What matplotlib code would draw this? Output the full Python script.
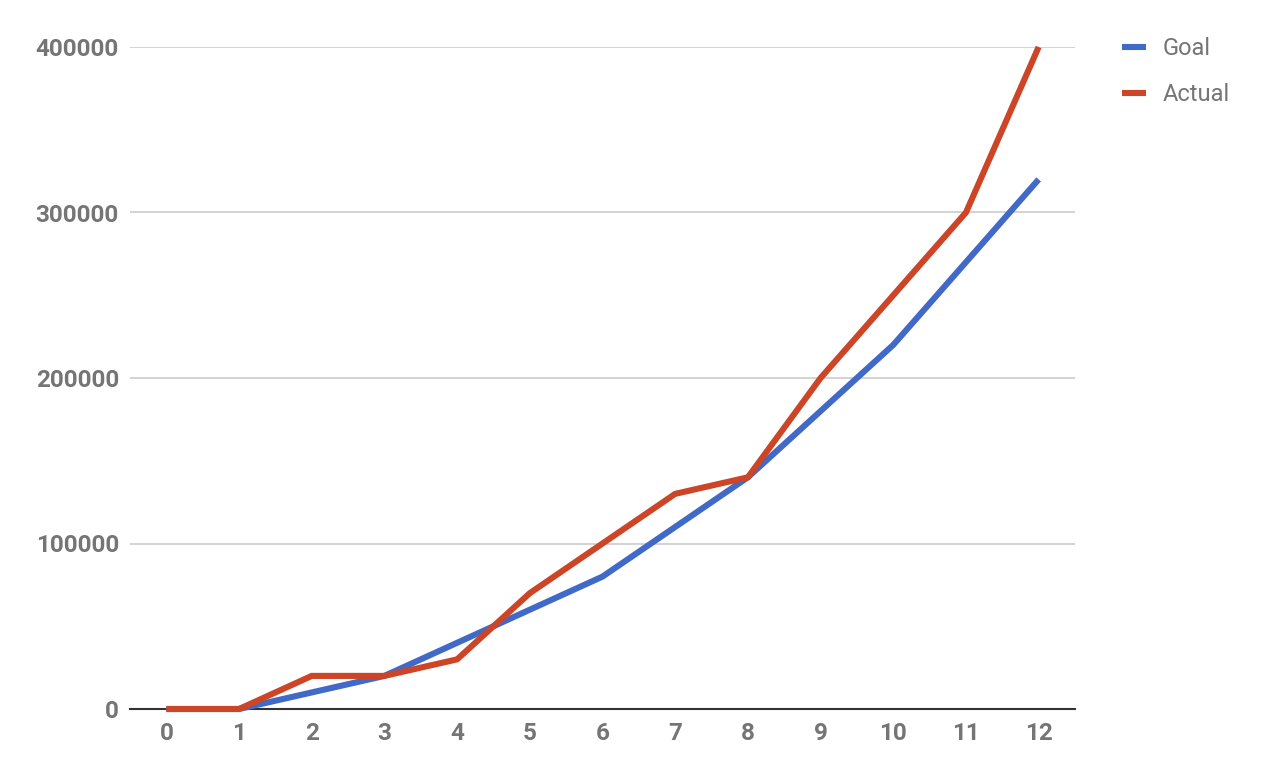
import matplotlib
matplotlib.use("Agg")
import matplotlib.pyplot as plt

x = list(range(13))
goal = [0, 0, 10000, 20000, 40000, 60000, 80000, 110000, 140000, 180000, 220000, 270000, 320000]
actual = [0, 0, 20000, 20000, 30000, 70000, 100000, 130000, 140000, 200000, 250000, 300000, 400000]
yticks = [0, 100000, 200000, 300000, 400000]

W, H = 1266, 778
fig = plt.figure(figsize=(W / 100, H / 100), dpi=100)
ax = fig.add_axes([130 / W, (H - 709) / H, (1075 - 130) / W, (709 - 47) / H])

blue = "#4169C8"
red = "#CC4527"
gray = "#757575"

l1, = ax.plot(x, goal, color=blue, lw=4.4, solid_capstyle="butt", solid_joinstyle="miter", clip_on=False, zorder=3)
l2, = ax.plot(x, actual, color=red, lw=4.4, solid_capstyle="butt", solid_joinstyle="miter", clip_on=False, zorder=4)

ax.set_xlim(-0.5, 12.5)
ax.set_ylim(0, 400000)
ax.set_xticks(x)
ax.set_yticks(yticks)
ax.set_yticklabels([str(v) for v in yticks])
for s in ["top", "right", "left"]:
    ax.spines[s].set_visible(False)
ax.spines["bottom"].set_color("#333333")
ax.spines["bottom"].set_linewidth(1.5)
ax.spines["bottom"].set_zorder(2)
ax.grid(axis="y", color="#cccccc", lw=1.2)
ax.set_axisbelow(True)
ax.tick_params(length=0)
ax.tick_params(axis="x", pad=9)
ax.tick_params(axis="y", pad=8)
for lab in ax.get_xticklabels() + ax.get_yticklabels():
    lab.set_fontfamily("Roboto")
    lab.set_fontweight("bold")
    lab.set_fontsize(17.5)
    lab.set_color(gray)

leg = fig.legend([l1, l2], ["Goal", "Actual"], loc="upper left",
                 bbox_to_anchor=(1101 / W, 1 - 16 / H), frameon=False,
                 handlelength=1.0, handletextpad=0.7, labelspacing=0.98,
                 prop={"family": "Roboto", "size": 17})
for t in leg.get_texts():
    t.set_color(gray)

fig.savefig("out.png", dpi=100)
